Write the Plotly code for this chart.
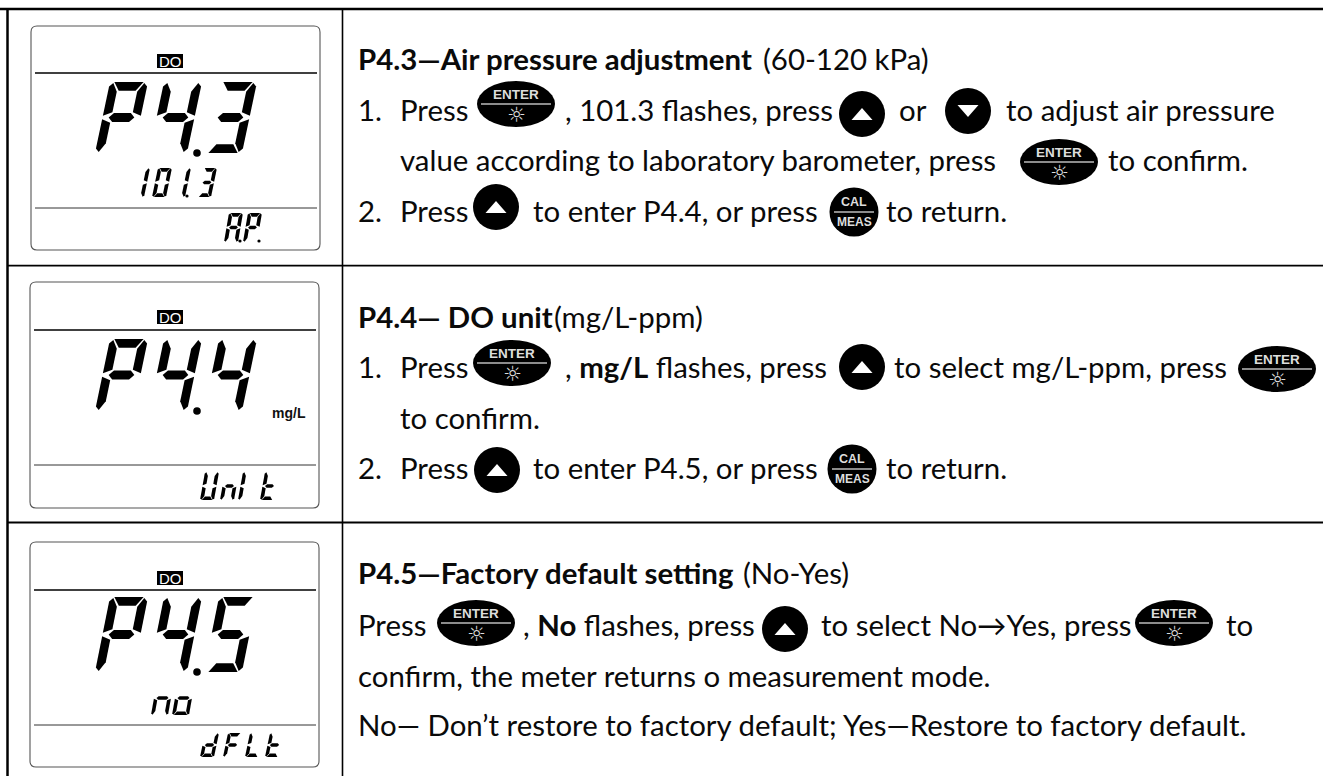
import plotly.graph_objects as go

# ---------- content ----------
DISPLAY_MAIN = ["P4.3", "P4.4", "P4.5"]
DISPLAY_SUB = ["101.3", "", "no"]
DISPLAY_FOOT = ["A.P.", "Unl t", "dFLt"]
BADGE = "DO"
UNIT = "mg/L"
BTN_ENTER = "ENTER"
BTN_CAL = "CAL"
BTN_MEAS = "MEAS"
SUN = "☼"

ROW1_TEXT = ["<b>P4.3—Air pressure adjustment</b>", "(60-120 kPa)", "1.", "Press",
             ", 101.3 flashes, press", "or", "to adjust air pressure",
             "value according to laboratory barometer, press", "to confirm.",
             "2.", "Press", "to enter P4.4, or press", "to return."]
ROW2_TEXT = ["<b>P4.4— DO unit</b>", "(mg/L-ppm)", "1.", "Press",
             ", <b>mg/L</b> flashes, press", "to select mg/L-ppm, press",
             "to confirm.", "2.", "Press", "to enter P4.5, or press", "to return."]
ROW3_TEXT = ["<b>P4.5—Factory default setting</b>", "(No-Yes)", "Press",
             ", <b>No</b> flashes, press", "to select No→Yes, press", "to",
             "confirm, the meter returns o measurement mode.",
             "No— Don’t restore to factory default; Yes—Restore to factory default."]

# ---------- layout of the text pieces (x, y centre) ----------
ROW1_POS = [(358, 58), (763, 58), (358, 109), (400, 109), (565, 109), (899, 109), (1006, 109),
            (400, 159), (1108, 159), (358, 210), (400, 210), (533, 210), (886, 210)]
ROW2_POS = [(358, 316), (554, 316), (358, 366), (400, 366), (565, 366), (894, 366),
            (400, 417), (358, 467), (400, 467), (533, 467), (886, 467)]
ROW3_POS = [(358, 572), (743, 572), (358, 624), (523, 624), (821, 624), (1226, 624),
            (358, 675), (358, 724)]

ENTER_AT = [(516, 104), (1059, 162), (512, 363), (1277, 369), (476, 623), (1174, 623)]
UP_AT = [(862, 114), (496, 207), (862, 367), (497, 470), (785, 629)]
DOWN_AT = [(968, 111)]
CAL_AT = [(854, 212), (852, 469)]

PANELS = [
    dict(x0=31, x1=320, y0=26, y1=250, top=73, bottom=208, badge=61,
         main=(82, 153), sub=(168, 197, [130, 152, 171, 197], 14, 6, 3.7),
         foot=(213, 242, [224, 243], 14, 5, 3.7)),
    dict(x0=30, x1=319, y0=282, y1=508, top=330, bottom=465, badge=317,
         main=(339, 411), sub=None,
         foot=(472, 500, [200, 220, 238, 260], 14, 5, 3.6)),
    dict(x0=30, x1=319, y0=542, y1=767, top=590, bottom=725, badge=578,
         main=(597, 672), sub=(681, 715, [151, 172], 17, 6, 3.6),
         foot=(733, 757, [200, 223, 245, 265], 14, 5, 3.4)),
]
MAIN_BASE = [95, 149, 204]

SEGMENTS = {"P": "abefg", "4": "bcfg", "3": "abcdg", "5": "acdfg", "0": "abcdef", "1": "bc",
            "A": "abcefg", "U": "bcdef", "n": "ceg", "l": "ef", "t": "defg", "d": "bcdeg",
            "F": "aefg", "L": "def", "o": "cdeg"}

shapes = []
annotations = []
BLACK = "#000000"


def text(x, y, s, size=29.4, color="#0a0a0a", font="Lato", anchor="left"):
    annotations.append(dict(x=x, y=y, text=s, showarrow=False, xanchor=anchor, yanchor="middle",
                            xref="x", yref="y", align="left",
                            font=dict(family=font, size=size, color=color),
                            xshift=0, yshift=0, borderpad=0, borderwidth=0))


def line(x0, y0, x1, y1, w=2, color=BLACK):
    shapes.append(dict(type="line", x0=x0, y0=y0, x1=x1, y1=y1, xref="x", yref="y",
                       line=dict(color=color, width=w)))


def poly(points, color=BLACK):
    p = "M " + " L ".join(f"{a:.2f},{b:.2f}" for a, b in points) + " Z"
    shapes.append(dict(type="path", path=p, xref="x", yref="y", fillcolor=color,
                       line=dict(width=0)))


def dot(x, y, r, color=BLACK):
    shapes.append(dict(type="circle", x0=x - r, x1=x + r, y0=y - r, y1=y + r, xref="x", yref="y",
                       fillcolor=color, line=dict(width=0)))


def rrect(x0, y0, x1, y1, r):
    p = (f"M {x0+r},{y0} L {x1-r},{y0} Q {x1},{y0} {x1},{y0+r} L {x1},{y1-r} Q {x1},{y1} {x1-r},{y1} "
         f"L {x0+r},{y1} Q {x0},{y1} {x0},{y1-r} L {x0},{y0+r} Q {x0},{y0} {x0+r},{y0} Z")
    shapes.append(dict(type="path", path=p, xref="x", yref="y", fillcolor="rgba(0,0,0,0)",
                       line=dict(color="#555555", width=1.1)))


def seven(ch, base, ytop, ybot, w, slant, t):
    """Slanted seven-segment glyph; base = left x at the bottom edge."""
    h = ybot - ytop
    g = t * 0.2

    def P(u, v):  # u across from left (px), v up from bottom (0-1)
        return (base + u + slant * v, ybot - v * h)

    tv = t / h
    segs = {
        "a": [P(g + t * .3, 1), P(w - g - t * .3, 1), P(w - g - t, 1 - tv), P(g + t, 1 - tv), ],
        "d": [P(g + t * .3, 0), P(w - g - t * .3, 0), P(w - g - t, tv), P(g + t, tv)],
        "g": [P(t * .7, .5), P(t * 1.2, .5 + tv / 2), P(w - t * 1.2, .5 + tv / 2), P(w - t * .7, .5),
              P(w - t * 1.2, .5 - tv / 2), P(t * 1.2, .5 - tv / 2)],
        "f": [P(0, .5 + g / h), P(0, 1 - tv * .5), P(g * 2, 1 - tv * .1), P(t, 1 - tv * 1.1), P(t, .5 + tv * .6)],
        "e": [P(0, .5 - g / h), P(0, tv * .5), P(g * 2, tv * .1), P(t, tv * 1.1), P(t, .5 - tv * .6)],
        "b": [P(w, .5 + g / h), P(w, 1 - tv * .5), P(w - g * 2, 1 - tv * .1), P(w - t, 1 - tv * 1.1), P(w - t, .5 + tv * .6)],
        "c": [P(w, .5 - g / h), P(w, tv * .5), P(w - g * 2, tv * .1), P(w - t, tv * 1.1), P(w - t, .5 - tv * .6)],
    }
    for s in SEGMENTS[ch]:
        poly(segs[s])


def small_line(s, spec):
    ytop, ybot, bases, w, slant, t = spec
    i = 0
    dots = []
    for ch in s:
        if ch == ".":
            dots.append(i - 1)
            continue
        if ch == " ":
            continue
        seven(ch, bases[i], ytop, ybot, w, slant, t)
        i += 1
    for k in dots:
        dot(bases[k] + w + 2.0, ybot - 1, 1.6)


# ---------- table rules ----------
line(0, 9, 1323, 9, 2.5)
line(7.5, 8, 7.5, 776, 2.5)
line(342.5, 8, 342.5, 776, 1.6)
line(7, 265.7, 1323, 265.7, 1.8)
line(7, 522.5, 1323, 522.5, 1.8)

# ---------- LCD panels ----------
for p, main, sub, foot in zip(PANELS, DISPLAY_MAIN, DISPLAY_SUB, DISPLAY_FOOT):
    rrect(p["x0"], p["y0"], p["x1"], p["y1"], 6)
    line(p["x0"] + 4, p["top"], p["x1"] - 3, p["top"], 1.3)
    line(p["x0"] + 4, p["bottom"], p["x1"] - 3, p["bottom"], 1, "#333333")
    shapes.append(dict(type="rect", x0=157, x1=183, y0=p["badge"] - 7, y1=p["badge"] + 7,
                       xref="x", yref="y", fillcolor=BLACK, line=dict(width=0)))
    text(170, p["badge"] + .5, BADGE, 15, "#ffffff", "Liberation Sans", "center")
    ytop, ybot = p["main"]
    chars = main.replace(".", "")
    for ch, b in zip(chars, MAIN_BASE):
        seven(ch, b, ytop, ybot, 38, 15, 8.8)
    dot(197, ybot, 3.8)
    if p["sub"] and sub:
        small_line(sub, p["sub"])
    small_line(foot, p["foot"])
text(289, 413, f"<b>{UNIT}</b>", 14, "#111111", "Liberation Sans", "center")


# ---------- buttons ----------
def enter(cx, cy):
    shapes.append(dict(type="circle", x0=cx - 39, x1=cx + 39, y0=cy - 23, y1=cy + 23, xref="x", yref="y",
                       fillcolor=BLACK, line=dict(width=0)))
    line(cx - 35, cy, cx + 35, cy, 1.3, "#bbbbbb")
    text(cx, cy - 9.5, f"<b>{BTN_ENTER}</b>", 13.5, "#dddddd", "Liberation Sans", "center")
    text(cx, cy + 11, SUN, 21, "#dddddd", "DejaVu Sans", "center")


def arrow(cx, cy, up=True):
    dot(cx, cy, 23)
    s = -1 if up else 1
    poly([(cx - 10.5, cy - s * 6), (cx + 10.5, cy - s * 6), (cx, cy + s * 6)], "#ffffff")


def cal(cx, cy):
    dot(cx, cy, 24.5)
    line(cx - 20, cy, cx + 20, cy, 1.3, "#bbbbbb")
    text(cx, cy - 10, f"<b>{BTN_CAL}</b>", 12.5, "#dddddd", "Liberation Sans", "center")
    text(cx, cy + 10, f"<b>{BTN_MEAS}</b>", 12, "#dddddd", "Liberation Sans", "center")


for c in ENTER_AT:
    enter(*c)
for c in UP_AT:
    arrow(*c)
for c in DOWN_AT:
    arrow(*c, up=False)
for c in CAL_AT:
    cal(*c)

# ---------- instruction text ----------
for strs, pos in ((ROW1_TEXT, ROW1_POS), (ROW2_TEXT, ROW2_POS), (ROW3_TEXT, ROW3_POS)):
    for s, (x, y) in zip(strs, pos):
        text(x, y, s)

fig = go.Figure()
fig.update_layout(
    width=1323, height=776, margin=dict(l=0, r=0, t=0, b=0),
    paper_bgcolor="#ffffff", plot_bgcolor="#ffffff", showlegend=False,
    xaxis=dict(range=[0, 1323], visible=False, fixedrange=True),
    yaxis=dict(range=[776, 0], visible=False, fixedrange=True),
    shapes=shapes, annotations=annotations,
)
fig.write_html("out.html", config={"displayModeBar": False},
               post_script="document.body.style.margin='0';document.body.style.overflow='hidden';")
